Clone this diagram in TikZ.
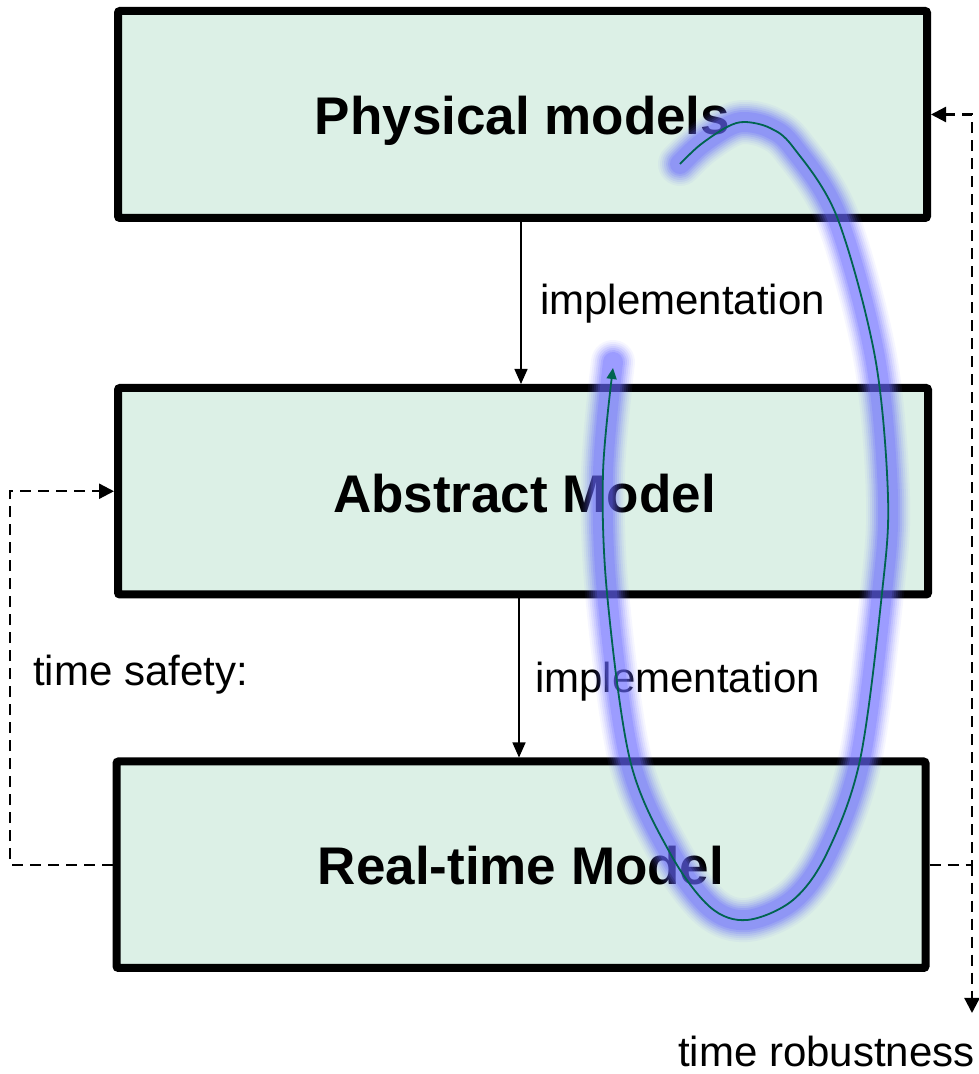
\documentclass[tikz,border=0pt]{standalone}
\usepackage{fontspec}
\setmainfont{Liberation Sans}
\usetikzlibrary{arrows.meta}
\definecolor{boxfill}{RGB}{220,240,230}
\definecolor{loopgreen}{RGB}{0,100,80}
\definecolor{glowblue}{RGB}{105,105,255}

\begin{document}
\begin{tikzpicture}[x=1pt,y=1pt,
  modelbox/.style={draw=black, line width=8pt, fill=boxfill, rounded corners=2pt,
    minimum width=809pt, minimum height=207pt, inner sep=0pt},
  title/.style={font=\fontsize{53}{60}\selectfont\bfseries, inner sep=0pt, anchor=base},
  lbl/.style={font=\fontsize{42}{50}\selectfont, inner sep=0pt, anchor=base west},
  impl/.style={line width=1.5pt, -{Triangle[length=15pt,width=13pt]}},
  feedback/.style={line width=2.3pt, dash pattern=on 11pt off 7pt,
    -{Triangle[length=15pt,width=15pt]}}
]
\useasboundingbox (0,0) rectangle (979,1074);

% the three model layers
\node[modelbox] (pm) at (522.5,959.5) {};
\node[modelbox, minimum width=810pt, minimum height=206.5pt] (am) at (523,582.75) {};
\node[modelbox, minimum height=206.5pt] (rt) at (521,209.25) {};

\node[title] (pmt) at ([yshift=-20.5pt]pm.center) {Physical models};
\node[title] (amt) at ([xshift=1.5pt,yshift=-21.75pt]am.center) {Abstract Model};
\node[title] (rtt) at ([yshift=-20.25pt]rt.center) {Real-time Model};

% refinement steps
\draw[impl] ([xshift=-1.5pt]pm.south) -- ([xshift=-2pt]am.north);
\draw[impl] ([xshift=-4pt]am.south) -- ([xshift=-2pt]rt.north);
\node[lbl] (impl1) at (540,759) {implementation};
\node[lbl] (impl2) at (535,381) {implementation};

% feedback loops
\coordinate (lc) at (10,209.25);
\coordinate (rc) at (972,209.25);
\coordinate (rend) at (972,61);
\draw[feedback] (rt.west) -- (lc) |- (am.west);
\draw[feedback] (rt.east) -- (rc) |- (pm.east);
\draw[feedback] (rc) -- (rend);
\node[lbl] (safety) at (33,388) {time safety:};
\node[lbl] (robust) at (678,7) {time robustness};

% highlighted design loop, soft glow under a thin line
\foreach \w/\o in {44/0.06,40/0.08,36/0.10,32/0.13,28/0.16,24/0.2,20/0.24}
  \draw[glowblue, line width=\w pt, opacity=\o, line cap=round, line join=round]
    plot[smooth, tension=0.55] coordinates {(680,910) (700,929) (727,947) (745,952)
      (770,946) (793,927) (837,857) (875,717) (888,577) (882,481) (860,314)
      (827,221) (793,174) (747,154) (710,167) (670,221) (630,314) (607,481)
      (603,601) (613,712)};
\draw[loopgreen, line width=1.8pt, -{Triangle[length=11pt,width=10pt]}]
    plot[smooth, tension=0.55] coordinates {(680,910) (700,929) (727,947) (745,952)
      (770,946) (793,927) (837,857) (875,717) (888,577) (882,481) (860,314)
      (827,221) (793,174) (747,154) (710,167) (670,221) (630,314) (607,481)
      (603,601) (613,706)};
\end{tikzpicture}
\end{document}
